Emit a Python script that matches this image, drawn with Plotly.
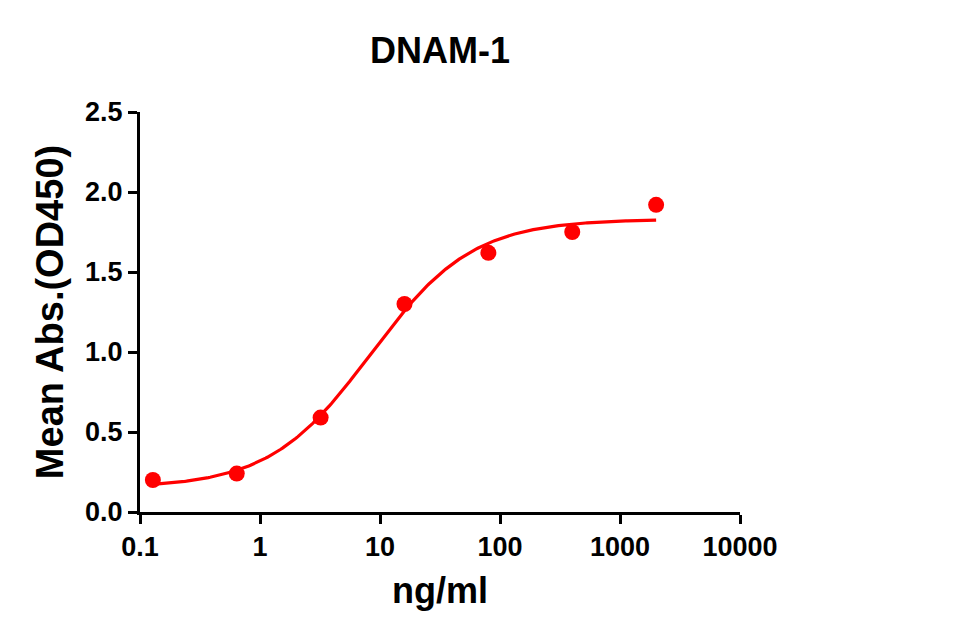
import numpy as np
import plotly.graph_objects as go

# Data
conc_ng_ml = [0.128, 0.64, 3.2, 16, 80, 400, 2000]
mean_abs = [0.20, 0.24, 0.59, 1.30, 1.62, 1.75, 1.92]

# 4PL fit parameters (estimated from the drawn curve)
fit_bottom = 0.15
fit_top = 1.83
fit_ec50 = 8.4
fit_hill = 1.03

x_tick_vals = [0.1, 1, 10, 100, 1000, 10000]
x_tick_text = ["0.1", "1", "10", "100", "1000", "10000"]
y_tick_vals = [0.0, 0.5, 1.0, 1.5, 2.0, 2.5]
y_tick_text = ["0.0", "0.5", "1.0", "1.5", "2.0", "2.5"]

RED = "#FF0000"
FONT = "Liberation Sans, Arial, sans-serif"

xfit = np.logspace(np.log10(min(conc_ng_ml)), np.log10(max(conc_ng_ml)), 300)
yfit = fit_bottom + (fit_top - fit_bottom) / (1 + (fit_ec50 / xfit) ** fit_hill)

fig = go.Figure()
fig.add_trace(go.Scatter(x=xfit, y=yfit, mode="lines",
                         line=dict(color=RED, width=3.2), hoverinfo="skip",
                         showlegend=False))
fig.add_trace(go.Scatter(x=conc_ng_ml, y=mean_abs, mode="markers",
                         marker=dict(color=RED, size=16, line=dict(width=0)),
                         showlegend=False, cliponaxis=False))

fig.update_layout(
    width=959, height=642,
    margin=dict(l=140, r=219, t=112, b=130),
    paper_bgcolor="white", plot_bgcolor="white",
    title=dict(text="DNAM-1", x=0.5, xref="paper", xanchor="center",
               y=1 - 50 / 642, yref="container", yanchor="middle",
               font=dict(family=FONT, size=36, color="black", weight="bold")),
    font=dict(family=FONT, color="black"),
)

fig.update_xaxes(
    type="log", range=[-1, 4],
    tickvals=x_tick_vals, ticktext=x_tick_text,
    showgrid=False, zeroline=False,
    showline=True, linecolor="black", linewidth=3,
    ticks="outside", ticklen=9, tickwidth=3, tickcolor="black",
    tickfont=dict(family=FONT, size=27, color="black", weight="bold"),
    title=dict(text="ng/ml", standoff=17,
               font=dict(family=FONT, size=36, color="black", weight="bold")),
)
fig.update_yaxes(
    range=[0, 2.5],
    tickvals=y_tick_vals, ticktext=y_tick_text,
    showgrid=False, zeroline=False,
    showline=True, linecolor="black", linewidth=3,
    ticks="outside", ticklen=9, tickwidth=3, tickcolor="black",
    tickfont=dict(family=FONT, size=27, color="black", weight="bold"),
    title=dict(text="Mean Abs.(OD450)", standoff=10,
               font=dict(family=FONT, size=38, color="black", weight="bold")),
)

fig.write_html("out.html")
